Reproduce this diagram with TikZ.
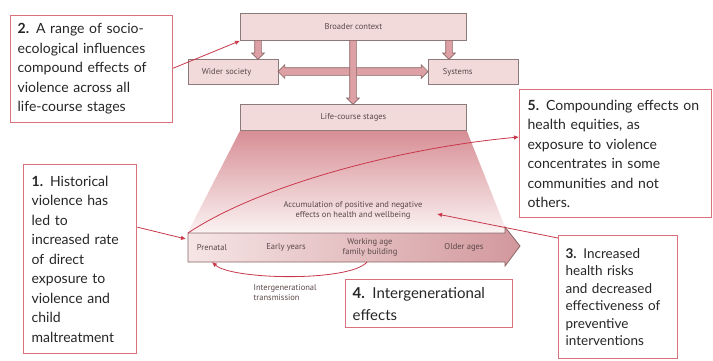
\documentclass[tikz,border=0pt]{standalone}
\usepackage{fontspec}
\setmainfont{Lato}
\newfontfamily\labelfont{PT Sans}
\usetikzlibrary{arrows.meta,shapes.arrows}

\definecolor{callred}{HTML}{C8374A}
\definecolor{callborder}{HTML}{D9727C}
\definecolor{boxfill}{HTML}{F2DADA}
\definecolor{boxline}{HTML}{8A7A7A}
\definecolor{arrowfill}{HTML}{DDA0A5}
\definecolor{arrowline}{HTML}{8A6565}
\definecolor{labelgray}{HTML}{5A4848}
\definecolor{callgray}{HTML}{262626}
\definecolor{wedgetop}{HTML}{D78E95}

\begin{document}
\begin{tikzpicture}[x=1pt,y=-1pt]
\tikzset{
  callout/.style={draw=callborder,line width=1.3pt,fill=white,anchor=north west,
    align=left,inner xsep=7pt,text=callgray,font=\fontsize{14}{19.5}\selectfont},
  ctxbox/.style={draw=boxline,line width=0.8pt,fill=boxfill,anchor=north west,
    text=labelgray,font=\labelfont\fontsize{8.5}{10}\selectfont,inner sep=0pt},
  smalllabel/.style={text=labelgray,font=\labelfont\fontsize{8.5}{10}\selectfont,align=center},
  downarrow/.style={single arrow,shape border rotate=270,draw=arrowline,fill=arrowfill,
    line width=0.7pt,inner sep=3pt,single arrow head extend=3pt,anchor=tail},
  link/.style={draw=callred,line width=0.8pt,-{Latex[length=5pt,width=4.5pt]}}
}
\useasboundingbox (0,0) rectangle (713,360);

% context boxes
\node[ctxbox,minimum width=226pt,minimum height=27pt] (broad) at (240,13) {Broader context};
\node[ctxbox,minimum width=90pt,minimum height=25pt,text width=81pt,align=left] (wider) at (188,59) {\hspace*{9pt}Wider society};
\node[ctxbox,minimum width=90pt,minimum height=25pt,text width=81pt,align=left] (systems) at (428,59) {\hspace*{10pt}Systems};
\node[ctxbox,minimum width=226pt,minimum height=26pt] (stages) at (240,104) {Life-course stages};

% block arrows
\node[double arrow,draw=arrowline,fill=arrowfill,line width=0.7pt,inner sep=3.5pt,
  double arrow head extend=3pt,minimum height=150pt] (both) at (353,71.5) {};
\node[downarrow,minimum height=19pt] (toWider) at (258,40) {};
\node[downarrow,minimum height=19pt] (toSys) at (449,40) {};
\node[downarrow,minimum height=64pt] (toStages) at (353,40) {};

% accumulation area
\shade[top color=wedgetop,bottom color=boxfill!35]
  (stages.south west) -- (stages.south east) -- (507,232) -- (188,232) -- cycle;
\node[smalllabel] (accum) at (353,210) {Accumulation of positive and negative\\effects on health and wellbeing};

% life-course arrow
\shade[left color=boxfill!70,right color=arrowfill!95!black,draw=arrowline,line width=0.8pt]
  (188,233) -- (505,233) -- (505,227) -- (520,246) -- (505,266) -- (505,262) -- (188,262) -- cycle;
\coordinate (lifeNW) at (188,233);
\coordinate (lifeW) at (186,239);
\node[smalllabel] (prenatal) at (212,247.5) {Prenatal};
\node[smalllabel] (early) at (286,247.5) {Early years};
\node[smalllabel] (working) at (370,247.5) {Working age\\family building};
\node[smalllabel] (older) at (464,247.5) {Older ages};
\coordinate (workS) at (367,262);
\coordinate (prenS) at (212,262);
\node[smalllabel,align=left,anchor=north west] (trans) at (250,281) {Intergenerational\\transmission};

% callouts
\node[callout,minimum width=162pt,minimum height=107pt,text width=148pt] (c2) at (10,15)
  {\textbf{2.} A range of socio-\\ecological influences\\compound effects of\\violence across all\\life-course stages};
\node[callout,minimum width=113pt,minimum height=189pt,text width=97pt,inner xsep=8pt] (c1) at (23,164)
  {\textbf{1.} Historical\\violence has\\led to\\increased rate\\of direct\\exposure to\\violence and\\child\\maltreatment};
\node[callout,minimum width=192pt,minimum height=128pt,text width=176pt,inner xsep=8pt] (c5) at (519,89)
  {\textbf{5.} Compounding effects on\\health equities, as\\exposure to violence\\concentrates in some\\communities and not\\others.};
\node[callout,minimum width=119pt,minimum height=123pt,text width=105pt,
  font=\fontsize{13.5}{17.5}\selectfont] (c3) at (558,235)
  {\textbf{3.} Increased\\health risks\\and decreased\\effectiveness of\\preventive\\interventions};
\node[callout,minimum width=167pt,minimum height=48pt,text width=153pt,
  font=\fontsize{15}{22}\selectfont] (c4) at (345,279)
  {\textbf{4.} Intergenerational\\effects};

% connectors
\draw[link] (c2.east) ++(0,-1) -- (broad.south west);
\draw[link] (c1.east) ++(0,-32) coordinate (c1out) -- (lifeW);
\draw[link] (lifeNW) .. controls (260,185) and (400,148) .. (c5.west |- 0,137);
\draw[link] (c3.north west) ++(0,3) -- (437,214);
\draw[link] (workS) .. controls (350,282) and (232,280) .. (prenS);
\end{tikzpicture}
\end{document}
